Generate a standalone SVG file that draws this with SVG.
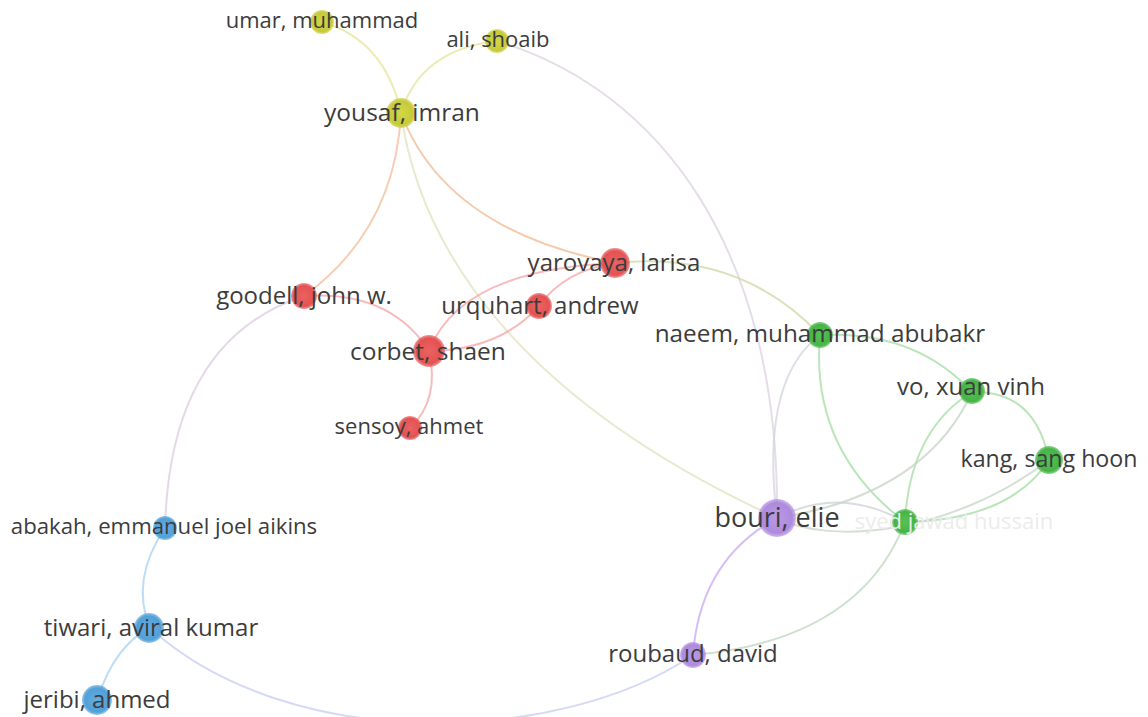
<svg xmlns="http://www.w3.org/2000/svg" width="1148" height="717" viewBox="0 0 1148 717">
<style>
.e{fill:none;stroke-width:2;stroke-linecap:round;stroke-opacity:0.75}
.lbl{font-family:"Open Sans","Liberation Sans",sans-serif;fill:#3c3c3c;text-anchor:middle}
</style>
<defs>
<radialGradient id="gy" cx="0.5" cy="0.5" r="0.5"><stop offset="0" stop-color="#d3d646"/><stop offset="0.8" stop-color="#c7ca38"/><stop offset="1" stop-color="#c7ca38" stop-opacity="0.6"/></radialGradient>
<radialGradient id="gr" cx="0.5" cy="0.5" r="0.5"><stop offset="0" stop-color="#ec6262"/><stop offset="0.8" stop-color="#e45252"/><stop offset="1" stop-color="#e45252" stop-opacity="0.6"/></radialGradient>
<radialGradient id="gg" cx="0.5" cy="0.5" r="0.5"><stop offset="0" stop-color="#55c255"/><stop offset="0.8" stop-color="#45b445"/><stop offset="1" stop-color="#45b445" stop-opacity="0.6"/></radialGradient>
<radialGradient id="gb" cx="0.5" cy="0.5" r="0.5"><stop offset="0" stop-color="#64aee3"/><stop offset="0.8" stop-color="#52a0d8"/><stop offset="1" stop-color="#52a0d8" stop-opacity="0.6"/></radialGradient>
<radialGradient id="gp" cx="0.5" cy="0.5" r="0.5"><stop offset="0" stop-color="#bb9ae6"/><stop offset="0.8" stop-color="#ae8ade"/><stop offset="1" stop-color="#ae8ade" stop-opacity="0.6"/></radialGradient>
</defs>
<rect width="1148" height="717" fill="#ffffff"/>
<g id="connectors">
<path class="e" stroke="#e4e69a" d="M401,113 Q385,40 322,22"/>
<path class="e" stroke="#e4e69a" d="M401,113 Q420,50 497,41"/>
<path class="e" stroke="#dcd2e0" d="M497,41 C660,90 780,250 777,518"/>
<path class="e" stroke="#f3bc98" d="M401,113 Q395,230 304,296"/>
<path class="e" stroke="#e2e2c0" stroke-width="1.6" d="M401,113 C420,250 520,400 777,518"/>
<path class="e" stroke="#f0b890" d="M401,113 Q445,230 615,263"/>
<path class="e" stroke="#f4a4a4" d="M304,296 Q390,290 429,351"/>
<path class="e" stroke="#f4a4a4" d="M429,351 Q460,270 615,263"/>
<path class="e" stroke="#f4a4a4" d="M429,351 Q500,350 539,306"/>
<path class="e" stroke="#f4a4a4" d="M539,306 Q565,270 615,263"/>
<path class="e" stroke="#f4a4a4" d="M429,351 Q440,400 410,428"/>
<path class="e" stroke="#dccce0" stroke-width="1.6" d="M304,296 Q170,340 165,528"/>
<path class="e" stroke="#d2d6a4" d="M615,263 Q740,250 820,335"/>
<path class="e" stroke="#a2dca2" d="M820,335 Q915,330 972,392"/>
<path class="e" stroke="#a2dca2" d="M820,335 Q810,450 905,522"/>
<path class="e" stroke="#d4d2e0" stroke-width="1.6" d="M820,335 Q760,380 777,518"/>
<path class="e" stroke="#a2dca2" d="M972,392 Q1035,390 1049,460"/>
<path class="e" stroke="#a2dca2" d="M972,392 Q910,430 905,522"/>
<path class="e" stroke="#c4d4c4" stroke-width="1.6" d="M972,392 Q925,495 777,518"/>
<path class="e" stroke="#a2dca2" d="M1049,460 Q1010,520 905,522"/>
<path class="e" stroke="#c6d6c6" stroke-width="1.6" d="M777,518 C830,545 950,535 1049,460"/>
<path class="e" stroke="#cdd0d6" stroke-width="1.6" d="M777,518 Q840,485 905,522"/>
<path class="e" stroke="#bcd4bc" d="M905,522 Q860,640 693,655"/>
<path class="e" stroke="#c9aaf2" stroke-width="3" d="M777,518 Q700,560 693,655"/>
<path class="e" stroke="#c6cdf2" d="M150,628 C290,755 560,745 693,655"/>
<path class="e" stroke="#a8d0f2" stroke-width="2.6" d="M150,628 Q130,580 165,528"/>
<path class="e" stroke="#a8d0f2" stroke-width="2.6" d="M150,628 Q115,645 97,700"/>
</g>
<g id="node-umar"><circle cx="322" cy="22" r="12" fill="url(#gy)"/><text class="lbl" x="322" y="28" font-size="22">umar, muhammad</text></g>
<g id="node-ali"><circle cx="497" cy="41" r="12" fill="url(#gy)"/><text class="lbl" x="498" y="47" font-size="22">ali, shoaib</text></g>
<g id="node-yousaf"><circle cx="401" cy="113" r="15" fill="url(#gy)"/><text class="lbl" x="402" y="121" font-size="24.5">yousaf, imran</text></g>
<g id="node-yarovaya"><circle cx="615" cy="263" r="15" fill="url(#gr)"/><text class="lbl" x="614" y="271" font-size="24">yarovaya, larisa</text></g>
<g id="node-goodell"><circle cx="304" cy="296" r="13" fill="url(#gr)"/><text class="lbl" x="304" y="304" font-size="24">goodell, john w.</text></g>
<g id="node-urquhart"><circle cx="539" cy="306" r="13" fill="url(#gr)"/><text class="lbl" x="540" y="314" font-size="24">urquhart, andrew</text></g>
<g id="node-corbet"><circle cx="429" cy="351" r="16" fill="url(#gr)"/><text class="lbl" x="428" y="360" font-size="24.5">corbet, shaen</text></g>
<g id="node-sensoy"><circle cx="410" cy="428" r="12" fill="url(#gr)"/><text class="lbl" x="409" y="434" font-size="22">sensoy, ahmet</text></g>
<g id="node-naeem"><circle cx="820" cy="335" r="13" fill="url(#gg)"/><text class="lbl" x="820" y="342" font-size="24.3">naeem, muhammad abubakr</text></g>
<g id="node-vo"><circle cx="972" cy="391" r="13" fill="url(#gg)"/><text class="lbl" x="971" y="395" font-size="24">vo, xuan vinh</text></g>
<g id="node-kang"><circle cx="1049" cy="460" r="14" fill="url(#gg)"/><text class="lbl" x="1049" y="467" font-size="23.2">kang, sang hoon</text></g>
<g id="node-syed"><circle cx="905" cy="522" r="13" fill="url(#gg)"/><text class="lbl" x="954" y="529" font-size="22" style="fill:#ececec">syed jawad hussain</text></g>
<g id="node-bouri"><circle cx="777" cy="518" r="19" fill="url(#gp)"/><text class="lbl" x="777" y="527" font-size="27">bouri, elie</text></g>
<g id="node-roubaud"><circle cx="693" cy="655" r="13" fill="url(#gp)"/><text class="lbl" x="693" y="662" font-size="24">roubaud, david</text></g>
<g id="node-abakah"><circle cx="165" cy="528" r="12" fill="url(#gb)"/><text class="lbl" x="164" y="534" font-size="22.2">abakah, emmanuel joel aikins</text></g>
<g id="node-tiwari"><circle cx="149" cy="628" r="15" fill="url(#gb)"/><text class="lbl" x="151" y="636" font-size="24">tiwari, aviral kumar</text></g>
<g id="node-jeribi"><circle cx="97" cy="700" r="15" fill="url(#gb)"/><text class="lbl" x="97" y="708" font-size="24">jeribi, ahmed</text></g>
</svg>
